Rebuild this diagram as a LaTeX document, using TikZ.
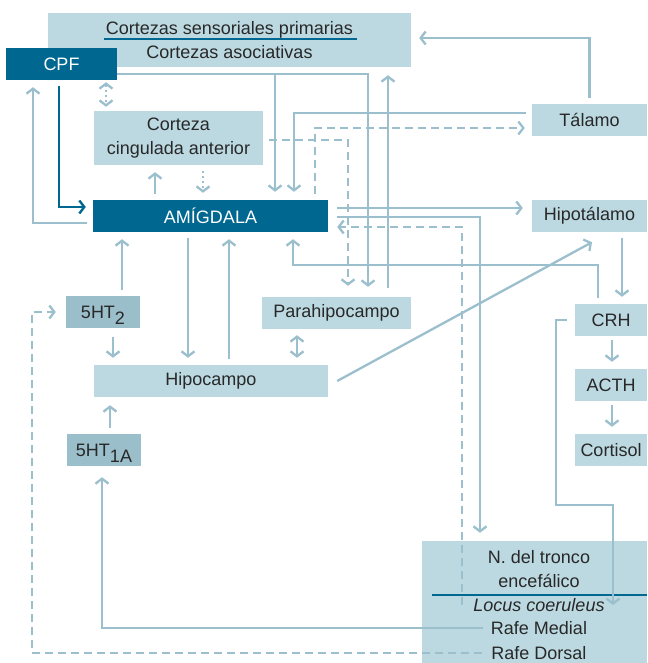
\documentclass[tikz,border=0pt]{standalone}
\usepackage{fontspec}
\setmainfont{Liberation Sans}
\usetikzlibrary{arrows.meta, positioning, calc}

\definecolor{boxlight}{RGB}{188,217,225}
\definecolor{boxmid}{RGB}{155,190,203}
\definecolor{boxdark}{RGB}{0,104,144}
\definecolor{linkc}{RGB}{155,191,205}
\definecolor{textc}{RGB}{40,40,40}

\newcommand{\htsub}[1]{\raisebox{-6pt}[0pt][0pt]{#1}}

\begin{document}
\begin{tikzpicture}[
    x=1pt, y=-1pt,
    font=\fontsize{18}{23.5}\selectfont,
    box/.style={
        rectangle, fill=boxlight, text=textc, align=center,
        inner sep=0pt, minimum height=32pt
    },
    darkbox/.style={box, fill=boxdark, text=white},
    midbox/.style={box, fill=boxmid},
    txt/.style={inner sep=0pt, text=textc, align=center},
    arrow/.style={
        -{Straight Barb[length=5pt,width=13pt]}, line width=2.3pt, draw=linkc,
        shorten >=7pt, shorten <=6pt
    },
    biarrow/.style={
        arrow, {Straight Barb[length=5pt,width=13pt]}-{Straight Barb[length=5pt,width=13pt]}
    },
    dasharrow/.style={arrow, dash pattern=on 8pt off 5pt},
    dotarrow/.style={arrow, dash pattern=on 2pt off 3pt},
    dotbiarrow/.style={biarrow, dash pattern=on 2pt off 3pt},
    rule/.style={line width=1.6pt, draw=boxdark}
]
    \useasboundingbox (0,0) rectangle (647,663);

    % =========================================================================
    % BOXES
    % =========================================================================
    \node [box, minimum width=363pt, minimum height=54pt] (cortex) at (229.5,40) {Cortezas sensoriales primarias\\Cortezas asociativas};
    \node [darkbox, minimum width=111pt] (cpf) at (61.5,64) {CPF};
    \node [box, minimum width=169pt, minimum height=54pt] (cca) at (178.5,138) {Corteza\\cingulada anterior};
    \node [darkbox, minimum width=235pt] (amig) at (210.5,216) {AMÍGDALA};
    \node [box, minimum width=115pt] (talamo) at (589.5,120) {Tálamo};
    \node [box, minimum width=115pt] (hipot) at (589.5,216) {Hipotálamo};
    \node [midbox, minimum width=74pt] (ht2) at (103,312) {5HT\htsub{2}};
    \node [box, minimum width=149pt] (parahip) at (336.5,313) {Parahipocampo};
    \node [box, minimum width=234pt] (hipoc) at (211,381) {Hipocampo};
    \node [midbox, minimum width=74pt] (ht1a) at (104,450) {5HT\htsub{1A}};
    \node [box, minimum width=72pt] (crh) at (611,320) {CRH};
    \node [box, minimum width=72pt] (acth) at (611,385) {ACTH};
    \node [box, minimum width=72pt] (cortisol) at (611,450) {Cortisol};

    \node [box, minimum width=225pt, minimum height=122pt] (tronco) at (534.5,602) {};
    \node [txt] (tronco_name) at (539,569) {N. del tronco\\encefálico};
    \node [txt, font=\fontsize{18}{23.5}\selectfont\itshape] (lc) at (539,605) {Locus coeruleus};
    \node [txt] (rmed) at (539,628) {Rafe Medial};
    \node [txt] (rdor) at (539,653) {Rafe Dorsal};

    \draw [rule] ([xshift=-125.5pt,yshift=1pt]cortex.center) -- ([xshift=127.5pt,yshift=1pt]cortex.center);
    \draw [rule] ([xshift=-102.5pt,yshift=7pt]tronco.center) -- ([yshift=7pt]tronco.east);

    % =========================================================================
    % CPF AND CORTICES
    % =========================================================================
    \draw [arrow] ([yshift=-7pt]amig.west) -| (33,0 |- cpf.south);
    \draw [arrow, draw=boxdark, line width=2.4pt] (59,0 |- cpf.south) |- ([yshift=9pt]amig.west);
    \draw [dotbiarrow, shorten <=2pt, shorten >=4pt] (106,0 |- cpf.south) -- (106,0 |- cca.north);

    \coordinate (ctxbus) at (275,74);
    \draw [arrow, shorten <=0pt, shorten >=10pt] (cpf.east |- ctxbus) -| (368,0 |- parahip.north);
    \draw [arrow, shorten <=0pt, shorten >=8pt] (ctxbus) -- (ctxbus |- amig.north);
    \draw [arrow, shorten <=9pt, shorten >=8pt] (388,0 |- parahip.north) -- (388,0 |- cortex.south);

    % Corteza cingulada anterior
    \draw [arrow] (155,0 |- amig.north) -- (155,0 |- cca.south);
    \draw [dotarrow] (203,0 |- cca.south) -- (203,0 |- amig.north);
    \draw [dasharrow, shorten >=11pt] ([yshift=-2pt]cca.east) -| (348,0 |- parahip.north);

    % =========================================================================
    % TALAMO AND HIPOTALAMO
    % =========================================================================
    \draw [arrow, shorten >=8pt] ([yshift=7pt]talamo.west) -| (294,0 |- amig.north);
    \draw [dasharrow] (315,0 |- amig.north) |- ([yshift=-8pt]talamo.west);
    \draw [arrow, shorten >=8pt] (talamo.north) |- ([yshift=2pt]cortex.east);

    \draw [arrow, shorten <=9pt, shorten >=9pt] ([yshift=8pt]amig.east) -- ([yshift=8pt]hipot.west);
    \draw [arrow, shorten <=9pt, shorten >=8pt] ([yshift=-1pt]amig.east) -| (480,0 |- tronco.north);
    \draw [dasharrow, shorten <=0pt, shorten >=9pt] (462,0 |- lc.west) |- ([yshift=-11pt]amig.east);

    \coordinate (crhbus) at (293,265);
    \draw [arrow] (598,0 |- crh.north) |- (crhbus) -- (crhbus |- amig.south);
    \draw [arrow] (622,0 |- hipot.south) -- (622,0 |- crh.north);
    \draw [arrow, shorten <=0pt, shorten >=0pt] ([xshift=9pt]hipoc.east) -- ([xshift=2.5pt,yshift=-10pt]hipot.south);

    % HPA axis
    \draw [arrow, shorten <=4pt] (612,0 |- crh.south) -- (612,0 |- acth.north);
    \draw [arrow, shorten <=4pt] (612,0 |- acth.south) -- (612,0 |- cortisol.north);

    \coordinate (crhdrop) at (556,505);
    \draw [arrow, shorten <=8pt, shorten >=0pt] (crh.west) -| (crhdrop) -| (613,0 |- lc.east);

    % =========================================================================
    % RAFE, 5HT AND HIPOCAMPO
    % =========================================================================
    \draw [arrow, shorten <=8pt, shorten >=11pt] (rmed.west) -| ([xshift=-2pt]ht1a.south);
    \draw [dasharrow, shorten <=9pt, shorten >=10pt] (rdor.west) -| (32,0 |- ht2.west) -- (ht2.west);

    \draw [arrow] (122,0 |- ht2.north) -- (122,0 |- amig.south);
    \draw [arrow] (188,0 |- amig.south) -- (188,0 |- hipoc.north);
    \draw [arrow] (229,0 |- hipoc.north) -- (229,0 |- amig.south);
    \draw [arrow, shorten <=9pt] (113,0 |- ht2.south) -- (113,0 |- hipoc.north);
    \draw [biarrow] (297,0 |- parahip.south) -- (297,0 |- hipoc.north);
    \draw [arrow, shorten >=8pt] (110,0 |- ht1a.north) -- (110,0 |- hipoc.south);

\end{tikzpicture}
\end{document}
